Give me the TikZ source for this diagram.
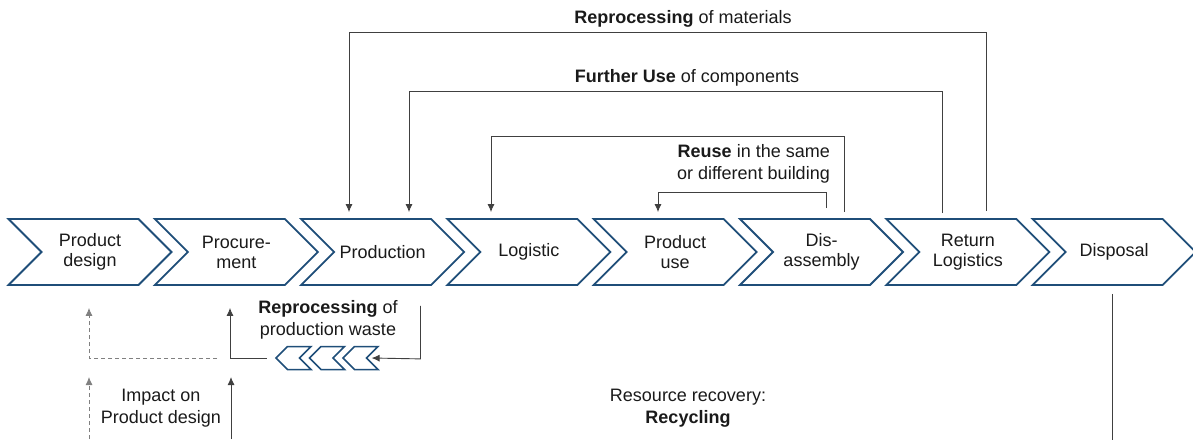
\documentclass[tikz,border=0pt]{standalone}
\usepackage{fontspec}
\setmainfont{Liberation Sans}
\usepackage{xcolor}
\usepackage{tikz}
\usetikzlibrary{arrows.meta, shapes.symbols}

\definecolor{chevblue}{RGB}{31,78,121}
\definecolor{linegray}{RGB}{64,64,64}
\definecolor{textgray}{RGB}{26,26,26}

\begin{document}
\begin{tikzpicture}[
    x=1pt, y=-1pt,
    stage/.style={
        signal,
        signal from=west,
        signal to=east,
        signal pointer angle=90,
        draw=chevblue,
        line width=1.8,
        fill=white,
        minimum width=163,
        minimum height=66,
        inner sep=0pt,
        align=center,
        text=textgray,
        font=\fontsize{18}{20}\selectfont
    },
    backstage/.style={
        signal,
        signal from=east,
        signal to=west,
        signal pointer angle=90,
        draw=chevblue,
        line width=1.5,
        fill=white,
        minimum width=35,
        minimum height=23,
        inner sep=0pt
    },
    lbl/.style={
        align=center,
        text=textgray,
        inner sep=1pt,
        font=\fontsize{18}{22}\selectfont
    },
    flow/.style={
        draw=linegray,
        line width=0.9,
        -{Latex[length=8,width=7]}
    },
    plain/.style={
        draw=linegray,
        line width=0.9
    }
]
\useasboundingbox (0,0) rectangle (1193,439);

% value chain
\foreach \nm/\txt [count=\i from 0] in {design/{Product\\design}, proc/{Procure-\\ment},
    prod/Production, logi/Logistic, use/{Product\\use}, disasm/{Dis-\\assembly},
    retlog/{Return\\Logistics}, disp/Disposal} {
    \node[stage] (\nm) at ({90+146.3*\i}, 252) {\txt};
}

% loops back into the chain
\draw[flow] ([xshift=18.2, yshift=7]retlog.north) -- ++(0,-179) -| ([xshift=-33.6, yshift=6]prod.north);
\draw[flow] ([xshift=-25.8, yshift=5]retlog.north) -- ++(0,-122) -| ([xshift=26.4, yshift=6]prod.north);
\draw[flow] ([xshift=22.5, yshift=6]disasm.north) -- ++(0,-76) -| ([xshift=-37.9, yshift=6]logi.north);
\draw[flow] ([xshift=4.5, yshift=10]disasm.north) -- ++(0,-16) -| ([xshift=-17.2, yshift=6]use.north);

\node[lbl] (matlbl) at (683,19) {\textbf{Reprocessing} of materials};
\node[lbl] (complbl) at (687,78) {\textbf{Further Use} of components};
\node[lbl, align=right, anchor=east] (reuselbl) at (831,164) {\textbf{Reuse} in the same\\or different building};

% production waste
\foreach \i in {1,2,3} {
    \node[backstage] (w\i) at ({293.5+33.5*(\i-1)}, 358) {};
}
\node[lbl] (wastelbl) at (328,320) {\textbf{Reprocessing} of\\production waste};

\draw[flow] ([xshift=37.9, yshift=-20]prod.south) -- ++(0,53) -- ([xshift=4]w3.east);
\draw[flow] ([xshift=-8]w1.west) -| ([xshift=-6.3, yshift=-22]proc.south);

\coordinate (dashstart) at (217,358);
\draw[flow, dashed, dash pattern=on 4pt off 3pt, draw=gray] (dashstart) -| ([xshift=-1, yshift=-22]design.south);

% impact on design
\coordinate (impactA) at (89,439);
\coordinate (impactB) at (231,439);
\draw[flow, dashed, dash pattern=on 4pt off 3pt, draw=gray] (impactA) -- ++(0,-62);
\draw[flow] (impactB) -- ++(0,-62);
\node[lbl] (impactlbl) at (161,408) {Impact on\\Product design};

% recycling
\draw[plain] ([xshift=-2, yshift=-8]disp.south) -- ++(0,150);
\node[lbl] (recyclbl) at (688,408) {Resource recovery:\\\textbf{Recycling}};

\end{tikzpicture}
\end{document}
